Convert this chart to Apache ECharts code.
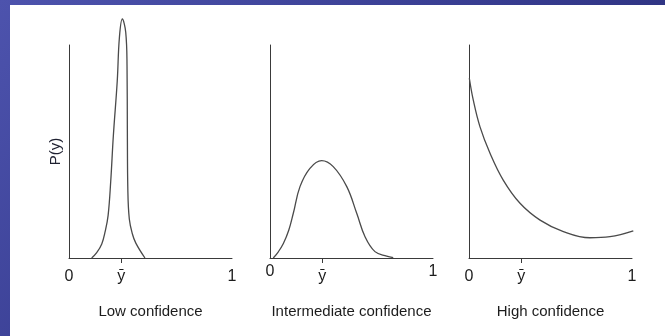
<!DOCTYPE html>
<html>
<head>
<meta charset="utf-8">
<script src="https://cdn.jsdelivr.net/npm/echarts@6/dist/echarts.min.js"></script>
<style>
  html, body { margin: 0; padding: 0; width: 665px; height: 336px; overflow: hidden; }
  body { background: linear-gradient(135deg, #4d53ad 0%, #373c90 50%, #22266c 100%); position: relative; }
  #sheet { position: absolute; left: 10px; top: 5px; right: 0; bottom: 0; background: #ffffff; }
  #chart { position: absolute; left: 0; top: 0; width: 665px; height: 336px; }
</style>
</head>
<body>
<div id="sheet"></div>
<div id="chart"></div>
<script>
// Mean position marked on each x axis
const yBar = 0.32;

// Panel titles and axis labels
const panelNames = ['Low confidence', 'Intermediate confidence', 'High confidence'];
const yAxisName = 'P(y)';
const barLabel = 'ȳ';

// Low confidence: narrow peak around the mean
const lowX = [0.139, 0.170, 0.201, 0.222, 0.240, 0.256, 0.272, 0.296, 0.309, 0.327, 0.348, 0.356, 0.358, 0.361, 0.370, 0.388, 0.410, 0.466];
const lowY = [0.000, 0.025, 0.066, 0.125, 0.200, 0.360, 0.573, 0.831, 1.033, 1.122, 1.060, 0.900, 0.600, 0.319, 0.183, 0.115, 0.070, 0.000];

// Intermediate confidence: broad hump
const midX = [0.020, 0.050, 0.082, 0.115, 0.143, 0.184, 0.245, 0.317, 0.388, 0.471, 0.532, 0.583, 0.644, 0.716, 0.756];
const midY = [0.000, 0.028, 0.068, 0.130, 0.210, 0.335, 0.421, 0.457, 0.429, 0.335, 0.210, 0.100, 0.030, 0.009, 0.002];

// High confidence: decaying curve with a shallow minimum
const highX = [0.002, 0.026, 0.067, 0.129, 0.210, 0.313, 0.436, 0.579, 0.742, 0.865, 1.008];
const highY = [0.844, 0.742, 0.617, 0.492, 0.366, 0.257, 0.178, 0.124, 0.095, 0.100, 0.127];

const pairs = (xs, ys) => xs.map((x, i) => [x, ys[i]]);
const curves = [pairs(lowX, lowY), pairs(midX, midY), pairs(highX, highY)];

const FONT = '"Liberation Sans", Arial, sans-serif';
const INK = '#1c1c1c';
const AXIS = '#3a3a3a';

const lefts = [69, 270, 469];
const grid = lefts.map(l => ({ left: l, top: 45, width: 163, height: 213 }));

const xAxis = lefts.map((l, i) => {
  const raised = i === 1; // middle panel prints 0 and 1 a little higher
  return {
    gridIndex: i, type: 'value', min: 0, max: 1,
    axisLine: { show: true, onZero: false, lineStyle: { color: AXIS, width: 1 } },
    splitLine: { show: false },
    axisTick: { show: true, customValues: [yBar], length: 5, lineStyle: { color: AXIS, width: 1 } },
    axisLabel: {
      customValues: [0, yBar, 1],
      margin: raised ? 6 : 11,
      fontFamily: FONT, fontSize: 16, color: INK,
      formatter: v => (v === yBar ? '{b|' + barLabel + '}' : '{n|' + v + '}'),
      rich: {
        n: { fontFamily: FONT, fontSize: 16, color: INK },
        b: { fontFamily: FONT, fontSize: 16, color: INK, padding: [raised ? 5 : 0, 0, 0, 0] }
      }
    },
    name: panelNames[i], nameLocation: 'middle', nameGap: 46,
    nameTextStyle: { fontFamily: FONT, fontSize: 15, color: INK }
  };
});

const yAxis = lefts.map((l, i) => ({
  gridIndex: i, type: 'value', min: 0, max: 1,
  axisLine: { show: true, lineStyle: { color: AXIS, width: 1 } },
  axisTick: { show: false }, axisLabel: { show: false }, splitLine: { show: false },
  name: i === 0 ? yAxisName : '', nameLocation: 'middle', nameGap: 6, nameRotate: 90,
  nameTextStyle: { fontFamily: FONT, fontSize: 15, color: '#1e2030' }
}));

const series = curves.map((d, i) => ({
  type: 'line', xAxisIndex: i, yAxisIndex: i, data: d,
  smooth: 0.4, showSymbol: false, clip: false,
  lineStyle: { color: '#4a4a4a', width: 1.3 }
}));

const chart = echarts.init(document.getElementById('chart'), null, { renderer: 'canvas' });
chart.setOption({ backgroundColor: 'transparent', animation: false, grid, xAxis, yAxis, series });
</script>
</body>
</html>
